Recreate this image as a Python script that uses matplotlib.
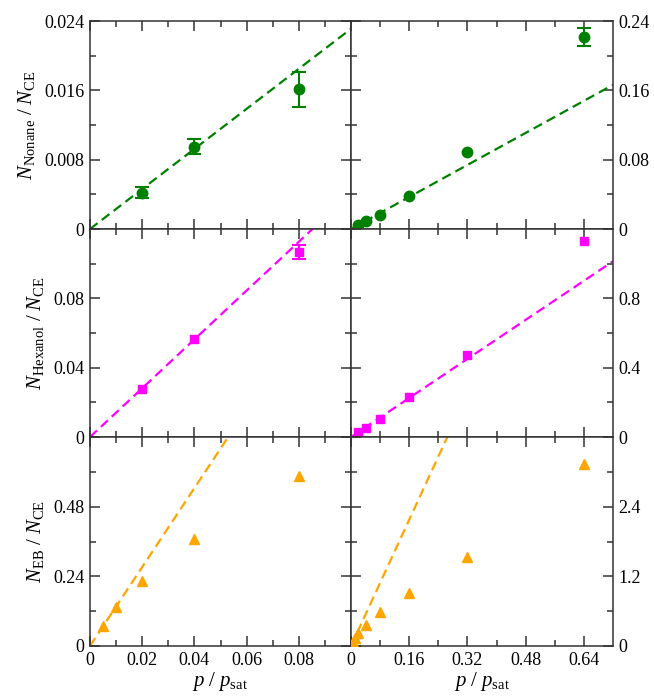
import numpy as np
import matplotlib
matplotlib.use("Agg")
import matplotlib.pyplot as plt

plt.rcParams["font.family"] = "Liberation Serif"
plt.rcParams["mathtext.fontset"] = "custom"
plt.rcParams["mathtext.rm"] = "Liberation Serif"
plt.rcParams["mathtext.it"] = "Liberation Serif:italic"

# Données
p_left = [0.02, 0.04, 0.08]
p_right = [0.02, 0.04, 0.08, 0.16, 0.32, 0.64]
p_eb_left = [0.005, 0.01, 0.02, 0.04, 0.08]
p_eb_right = [0.005, 0.01, 0.02, 0.04, 0.08, 0.16, 0.32, 0.64]

nonane_left = [0.0042, 0.0095, 0.0161]
nonane_left_err = [0.0006, 0.0009, 0.0020]
nonane_right = [0.0043, 0.0096, 0.0162, 0.0384, 0.0885, 0.2212]
nonane_right_err = [0, 0, 0, 0, 0, 0.0102]

hexanol_left = [0.0277, 0.0565, 0.1069]
hexanol_left_err = [0, 0, 0.0040]
hexanol_right = [0.027, 0.054, 0.104, 0.233, 0.475, 1.131]

eb_left = [0.069, 0.136, 0.223, 0.367, 0.584]
eb_right = [0.069, 0.136, 0.223, 0.37, 0.59, 0.912, 1.535, 3.14]

# Pentes de Henry (droites pointillées)
slope_nonane = 0.231
slope_hexanol = 1.408
slope_eb = 13.6

green = "#008000"
magenta = "#ff00ff"
orange = "#ffa500"
axcol = "#333333"

fig = plt.figure(figsize=(6.54, 6.98), dpi=100)
W, H = 654, 698
x0, xm, x1 = 90, 351, 613
rows = [(21, 229), (229, 437), (437, 646)]

axes = []
for (ytop, ybot) in rows:
    row = []
    for (xa, xb) in [(x0, xm), (xm, x1)]:
        ax = fig.add_axes([xa / W, (H - ybot) / H, (xb - xa) / W, (ybot - ytop) / H])
        row.append(ax)
    axes.append(row)


def style(ax, right):
    ax.tick_params(which="both", direction="in", top=True, bottom=True, left=True, right=True,
                   labelsize=13, width=1.1, color=axcol, labelcolor="black", pad=4)
    ax.tick_params(which="major", length=7.5)
    ax.tick_params(which="minor", length=4)
    if right:
        ax.tick_params(labelleft=False, labelright=True)
    for s in ax.spines.values():
        s.set_linewidth(1.1)
        s.set_color(axcol)


def henry(ax, slope, xmax, color):
    xs = np.array([0, xmax])
    ax.plot(xs, slope * xs, color=color, lw=1.6, dashes=(4.3, 2.4), zorder=2)


def errs(ax, x, y, e, color):
    x, y, e = np.array(x), np.array(y), np.array(e)
    m = e > 0
    ax.errorbar(x[m], y[m], yerr=e[m], fmt="none", ecolor=color, elinewidth=1.5,
                capsize=5, capthick=1.5, zorder=3)


# Nonane
ax = axes[0][0]
henry(ax, slope_nonane, 0.1, green)
errs(ax, p_left, nonane_left, nonane_left_err, green)
ax.plot(p_left, nonane_left, "o", color=green, ms=7.5, zorder=4)
ax.set_ylim(0, 0.024)
ax.set_yticks([0, 0.008, 0.016, 0.024], ["0", "0.008", "0.016", "0.024"])
ax.set_ylabel(r"$N_{\mathrm{Nonane}}\ /\ N_{\mathrm{CE}}$", fontsize=15, labelpad=5)

ax = axes[0][1]
henry(ax, slope_nonane, 0.72, green)
errs(ax, p_right, nonane_right, nonane_right_err, green)
ax.plot(p_right, nonane_right, "o", color=green, ms=7.5, zorder=4)
ax.set_ylim(0, 0.24)
ax.set_yticks([0, 0.08, 0.16, 0.24], ["0", "0.08", "0.16", "0.24"])

# Hexanol
ax = axes[1][0]
henry(ax, slope_hexanol, 0.1, magenta)
errs(ax, p_left, hexanol_left, hexanol_left_err, magenta)
ax.plot(p_left, hexanol_left, "s", color=magenta, ms=6, zorder=4)
ax.set_ylim(0, 0.12)
ax.set_yticks([0, 0.04, 0.08, 0.12], ["0", "0.04", "0.08", ""])
ax.set_ylabel(r"$N_{\mathrm{Hexanol}}\ /\ N_{\mathrm{CE}}$", fontsize=15, labelpad=5)

ax = axes[1][1]
henry(ax, slope_hexanol, 0.72, magenta)
ax.plot(p_right, hexanol_right, "s", color=magenta, ms=6, zorder=4)
ax.set_ylim(0, 1.2)
ax.set_yticks([0, 0.4, 0.8, 1.2], ["0", "0.4", "0.8", ""])

# EB
ax = axes[2][0]
henry(ax, slope_eb, 0.1, orange)
ax.plot(p_eb_left, eb_left, "^", color=orange, ms=7.5, zorder=4)
ax.set_ylim(0, 0.72)
ax.set_yticks([0, 0.24, 0.48, 0.72], ["0", "0.24", "0.48", ""])
ax.set_ylabel(r"$N_{\mathrm{EB}}\ /\ N_{\mathrm{CE}}$", fontsize=15, labelpad=5)

ax = axes[2][1]
henry(ax, slope_eb, 0.72, orange)
ax.plot(p_eb_right, eb_right, "^", color=orange, ms=7.5, zorder=4)
ax.set_ylim(0, 3.6)
ax.set_yticks([0, 1.2, 2.4, 3.6], ["0", "1.2", "2.4", ""])

for r in range(3):
    for c in range(2):
        ax = axes[r][c]
        if c == 0:
            ax.set_xlim(0, 0.1)
            ax.set_xticks([0, 0.02, 0.04, 0.06, 0.08, 0.1], ["0", "0.02", "0.04", "0.06", "0.08", ""])
            ax.set_xticks(np.arange(0.01, 0.1, 0.02), minor=True)
        else:
            ax.set_xlim(0, 0.72)
            ax.set_xticks([0, 0.16, 0.32, 0.48, 0.64], ["0", "0.16", "0.32", "0.48", "0.64"])
            ax.set_xticks(np.arange(0.08, 0.72, 0.16), minor=True)
        yt = ax.get_yticks()
        step = yt[1] - yt[0]
        ax.set_yticks(np.arange(step / 2, yt[-1], step), minor=True)
        style(ax, c == 1)
        if r < 2:
            ax.tick_params(labelbottom=False)
        else:
            ax.set_xlabel(r"$p\ /\ p_{\mathrm{sat}}$", fontsize=15, labelpad=1)

fig.savefig("out.png", dpi=100)
